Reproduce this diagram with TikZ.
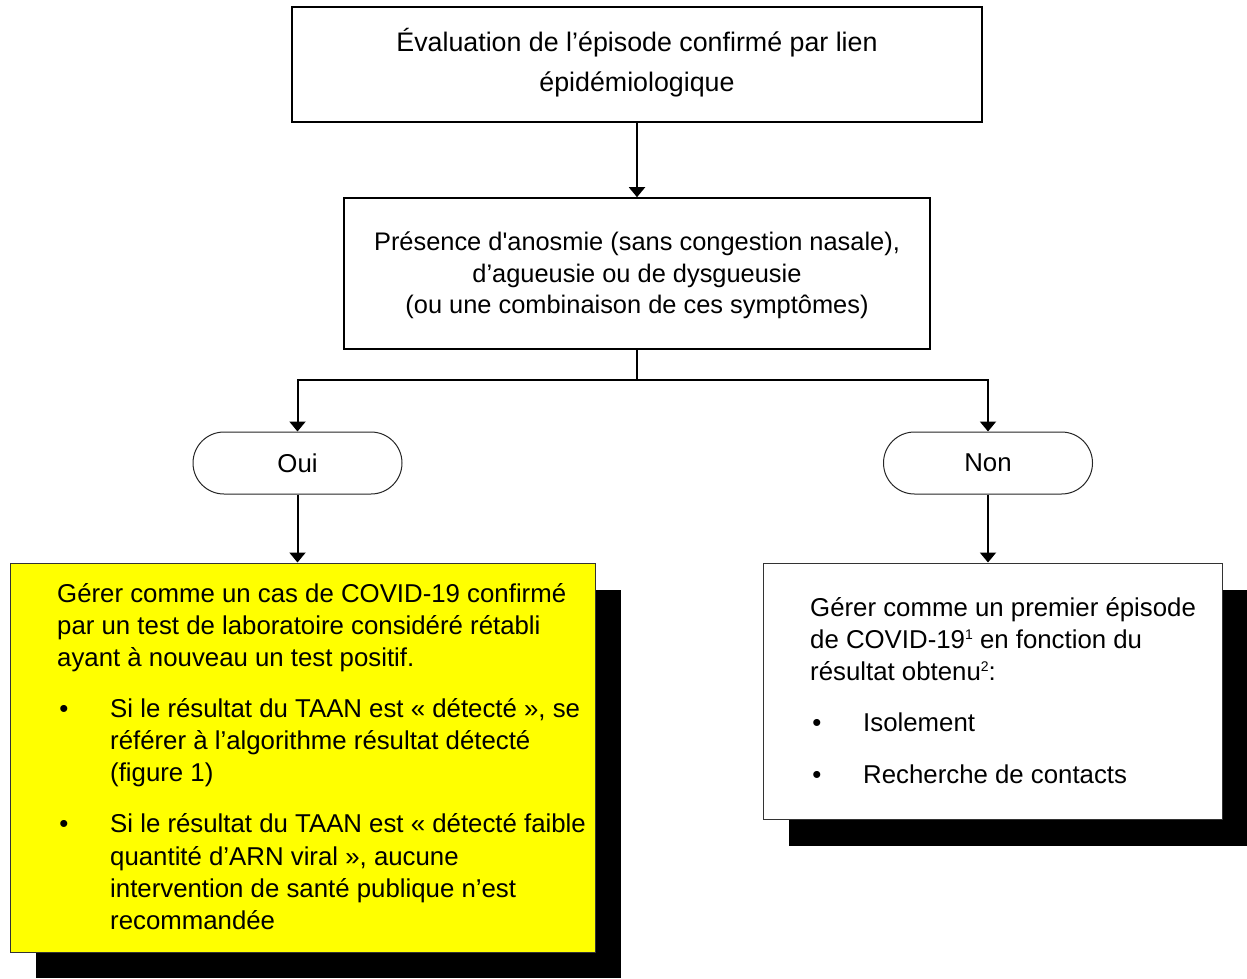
\documentclass[tikz,border=0pt]{standalone}
\usepackage{fontspec}
\setmainfont{Liberation Sans}[Ligatures=TeXOff]
\usetikzlibrary{arrows.meta}
\newcommand{\supnum}[1]{\raisebox{9pt}{\fontsize{14}{14}\selectfont #1}}
\begin{document}
\begin{tikzpicture}[x=1pt,y=-1pt,
  every node/.style={font=\fontsize{25.8}{32}\selectfont},
  mainbox/.style={draw=black, line width=1.6pt, inner sep=0pt},
  pill/.style={draw=black!85, line width=1pt, rounded corners=31pt, inner sep=0pt, minimum width=209pt, minimum height=62pt},
  yellowbox/.style={draw=black!80, line width=1pt, fill={rgb,255:red,255;green,255;blue,0}, inner sep=0pt},
  whitebox/.style={draw=black!80, line width=1pt, fill=white, inner sep=0pt},
  shadow/.style={fill=black},
  conn/.style={line width=2pt, -{Triangle[width=16pt,length=10pt]}},
  plain/.style={line width=2pt},
  txt/.style={anchor=base west, inner sep=0pt},
  ctxt/.style={anchor=base, inner sep=0pt},
  bigtxt/.style={anchor=base, inner sep=0pt, font=\fontsize{26.8}{32}\selectfont},
  midtxt/.style={anchor=base, inner sep=0pt, font=\fontsize{25.4}{32}\selectfont},
  bul/.style={anchor=base, inner sep=0pt}
]
\useasboundingbox (0,0) rectangle (1247,978);
\fill[white] (0,0) rectangle (1247,978);

% top boxes
\node[mainbox, minimum width=690pt, minimum height=115pt] (b1) at (637,64.5) {};
\node[bigtxt] (b1t1) at (637,51) {Évaluation de l’épisode confirmé par lien};
\node[bigtxt] (b1t2) at (637,91) {épidémiologique};

\node[mainbox, minimum width=586pt, minimum height=151pt] (b2) at (637,273.5) {};
\node[midtxt] (b2t1) at (637,250) {Présence d'anosmie (sans congestion nasale),};
\node[midtxt] (b2t2) at (637,282) {d’agueusie ou de dysgueusie};
\node[midtxt] (b2t3) at (637,313) {(ou une combinaison de ces symptômes)};

% decision pills
\node[pill] (oui) at (297.5,463) {Oui};
\node[pill] (non) at (988,463) {Non};

% shadows
\fill[shadow] (36,590) rectangle (621,978);
\fill[shadow] (789,590) rectangle (1247,846);

% result boxes
\node[yellowbox, minimum width=585pt, minimum height=389pt] (ybox) at (302.5,757.5) {};
\node[whitebox, minimum width=459pt, minimum height=256pt] (wbox) at (992.5,691) {};

% yellow box text
\node[txt] (y1) at (57,602) {Gérer comme un cas de COVID-19 confirmé};
\node[txt] (y2) at (57,634) {par un test de laboratoire considéré rétabli};
\node[txt] (y3) at (57,666) {ayant à nouveau un test positif.};
\node[bul] (yb1) at (64,717) {•};
\node[txt] (y4) at (110,717) {Si le résultat du TAAN est « détecté », se};
\node[txt] (y5) at (110,749) {référer à l’algorithme résultat détecté};
\node[txt] (y6) at (110,781) {(figure 1)};
\node[bul] (yb2) at (64,832) {•};
\node[txt] (y7) at (110,832) {Si le résultat du TAAN est « détecté faible};
\node[txt] (y8) at (110,865) {quantité d’ARN viral », aucune};
\node[txt] (y9) at (110,897) {intervention de santé publique n’est};
\node[txt] (y10) at (110,929) {recommandée};

% white box text
\node[txt] (w1) at (810,616) {Gérer comme un premier épisode};
\node[txt] (w2) at (810,648) {de COVID-19\supnum{1} en fonction du};
\node[txt] (w3) at (810,680) {résultat obtenu\supnum{2}:};
\node[bul] (wb1) at (817,731) {•};
\node[txt] (w4) at (863,731) {Isolement};
\node[bul] (wb2) at (817,783) {•};
\node[txt] (w5) at (863,783) {Recherche de contacts};

% connectors
\coordinate (split) at (637,380);
\draw[conn] (b1.south) -- (b2.north);
\draw[plain] (b2.south) -- (split);
\draw[conn] (split) -| (oui.north);
\draw[conn] (split) -| (non.north);
\draw[conn] (oui.south) -- (oui.south |- ybox.north);
\draw[conn] (non.south) -- (non.south |- wbox.north);
\end{tikzpicture}
\end{document}
